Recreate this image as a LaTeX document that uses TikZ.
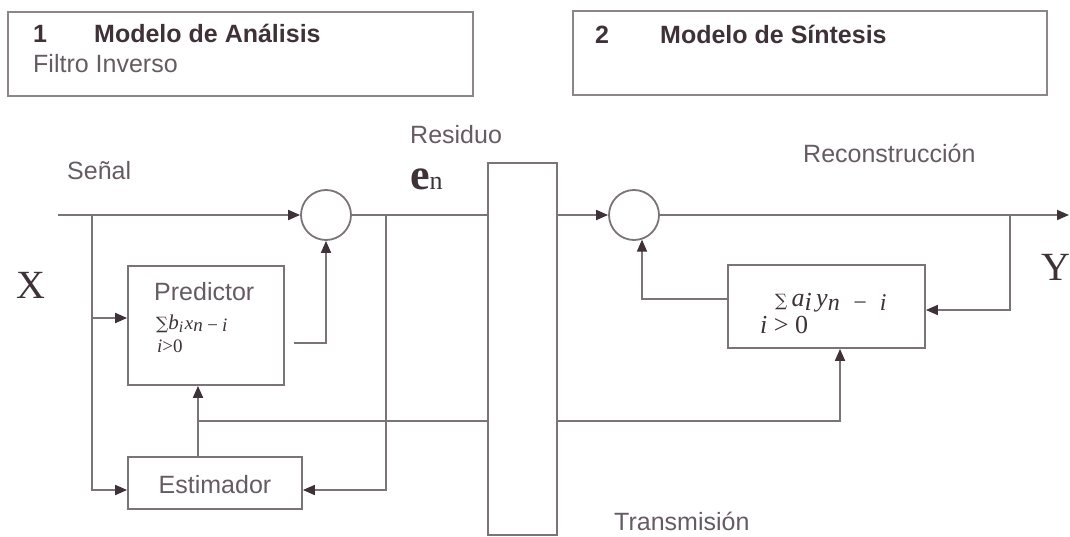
\documentclass[tikz,border=0pt]{standalone}
\usepackage{fontspec}
\setmainfont{Liberation Serif}
\setsansfont{Liberation Sans}
\newfontfamily\sumfont{DejaVu Serif}
\usepackage{tikz}
\usetikzlibrary{arrows.meta, positioning}
\definecolor{linegray}{HTML}{7A7479}
\definecolor{boxgray}{HTML}{8C8689}
\definecolor{inkdark}{HTML}{3E3138}
\definecolor{inksoft}{HTML}{665B62}
\newcommand{\smallsum}{{\sumfont\upshape\fontsize{17}{20}\selectfont ∑}}
\newcommand{\lowered}[2]{\raisebox{-#1}{#2}}

\begin{document}
\begin{tikzpicture}[x=1pt, y=-1pt,
    header/.style = {rectangle, draw=boxgray, line width=2pt, inner sep=0pt, minimum height=84pt},
    block/.style = {rectangle, draw=linegray, line width=1.8pt, inner sep=0pt},
    adder/.style = {circle, draw=linegray, line width=1.8pt, inner sep=0pt, minimum size=50pt},
    tag/.style = {inner sep=0pt, anchor=base west, text=inksoft, font=\sffamily\fontsize{25}{30}\selectfont},
    title/.style = {tag, text=inkdark, font=\sffamily\bfseries\fontsize{25}{30}\selectfont},
    big/.style = {inner sep=0pt, anchor=base west, text=inkdark, font=\fontsize{40}{44}\selectfont},
    formula/.style = {inner sep=0pt, anchor=base west, text=inkdark, font=\itshape},
    wire/.style = {draw=linegray, line width=1.8pt},
    arrow/.style = {wire, -{Triangle[length=12pt, width=10pt, color=inkdark]}}
]
\useasboundingbox (0,0) rectangle (1070,537);

% Header boxes
\node (hdr_ana) [header, minimum width=465pt, at={(240.5, 54)}] {};
\node (hdr_sin) [header, minimum width=474pt, at={(810, 53.5)}] {};
\node (num_ana) [title, at={(33, 43)}] {1};
\node (txt_ana) [title, at={(94, 43)}] {Modelo de Análisis};
\node (sub_ana) [tag, at={(33, 73)}] {Filtro Inverso};
\node (num_sin) [title, at={(595, 44)}] {2};
\node (txt_sin) [title, at={(660, 44)}] {Modelo de Síntesis};

% Analysis side
\node (c1) [adder, at={(326, 215)}] {};
\node (pred) [block, minimum width=156pt, minimum height=119pt, at={(206, 325.5)}] {};
\node (pred_txt) [tag, at={(154, 300)}] {Predictor};
\node (pred_sum) [formula, at={(156, 329)}] {\smallsum{\fontsize{21}{24}\selectfont b}\lowered{3pt}{\fontsize{16}{18}\selectfont i}\,{\fontsize{19}{22}\selectfont x\lowered{2pt}{n\,−\,i}}};
\node (pred_idx) [formula, font=\itshape\fontsize{19}{22}\selectfont, at={(157, 352)}] {i{\upshape >0}};
\node (est) [block, minimum width=174pt, minimum height=52pt, at={(215, 483)}] {};
\node (est_txt) [tag, anchor=center, at={(215, 485)}] {Estimador};

% Transmission channel
\node (trans) [block, minimum width=69pt, minimum height=372pt, at={(522.5, 349)}] {};

% Synthesis side
\node (c2) [adder, at={(634, 215)}] {};
\node (synth) [block, minimum width=197pt, minimum height=83pt, at={(826.5, 306.5)}] {};
\node (synth_sum) [formula, font=\itshape\fontsize{26}{30}\selectfont, at={(775, 306)}] {\smallsum\,a\lowered{4pt}{i}\,y\lowered{4pt}{{\fontsize{24}{28}\selectfont n\ \ −\ \ i}}};
\node (synth_idx) [formula, font=\itshape\fontsize{26}{30}\selectfont, at={(760, 333)}] {i {\upshape > 0}};

% Labels
\node (lbl_senal) [tag, at={(67, 180)}] {Señal};
\node (lbl_x) [big, at={(16, 298)}] {X};
\node (lbl_res) [tag, at={(410, 144)}] {Residuo};
\node (lbl_en) [formula, font=\upshape, at={(410, 190)}] {{\fontsize{44}{44}\selectfont\bfseries e}{\fontsize{26}{26}\selectfont n}};
\node (lbl_rec) [tag, at={(803, 163)}] {Reconstrucción};
\node (lbl_y) [big, at={(1041, 280)}] {Y};
\node (lbl_trans) [tag, at={(614, 530)}] {Transmisión};

% Branch points
\coordinate (xin) at (58, 215);
\coordinate (xbr) at (92, 215);
\coordinate (resbr) at (386, 215);
\coordinate (estbr) at (198, 421);
\coordinate (ybr) at (1010, 215);
\coordinate (yout) at (1069, 215);

% Analysis connections
\draw [arrow] (xin) -- (c1.west);
\draw [arrow] (xbr) |- ([yshift=-7pt]est.west);
\draw [arrow] (xbr |- 0, 318) -- ([yshift=7.5pt]pred.west);
\draw [arrow] ([xshift=9pt, yshift=-17.5pt]pred.east) -| (c1.south);
\draw [wire] (c1.east) -- (trans.west |- c1.east);
\draw [arrow] (resbr) |- ([yshift=-7pt]est.east);
\draw [arrow] ([xshift=-17pt]est.north) -- ([xshift=-17pt]est.north |- pred.south);
\draw [wire] (estbr) -- (trans.west |- estbr);

% Synthesis connections
\draw [arrow] (trans.east |- estbr) -| ([xshift=13.5pt]synth.south);
\draw [arrow] (trans.east |- c2.west) -- (c2.west);
\draw [arrow] (c2.east) -- (yout);
\draw [arrow] (ybr) |- ([yshift=-3.5pt]synth.east);
\draw [arrow] ([yshift=7.5pt]synth.west) -| (c2.-72);

\end{tikzpicture}
\end{document}
